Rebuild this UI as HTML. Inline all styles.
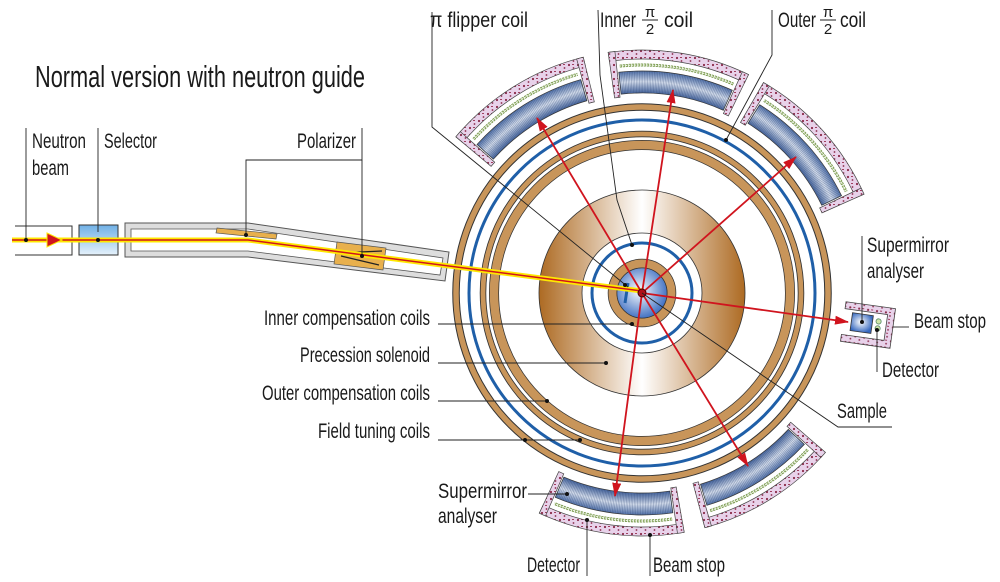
<!DOCTYPE html>
<html><head><meta charset="utf-8"><style>
html,body{margin:0;padding:0;background:#fff}
svg{display:block}
text{font-family:"Liberation Sans Narrow","Liberation Sans",sans-serif;fill:#1a1a1a}
</style></head><body>
<svg id="s" width="1000" height="582" viewBox="0 0 1000 582" xmlns="http://www.w3.org/2000/svg">
<defs>
<pattern id="pp" width="9" height="7" patternUnits="userSpaceOnUse">
<rect width="9" height="7" fill="#e8d2ea"/>
<circle cx="2" cy="2" r="1.1" fill="#8a2a4a"/><circle cx="6.5" cy="5" r="0.9" fill="#8a2a4a"/><rect x="5" y="1" width="2" height="1" fill="#a04060"/>
</pattern>
<radialGradient id="bg" cx="642" cy="293" r="243" gradientUnits="userSpaceOnUse">
<stop offset="0.82" stop-color="#3d5e9a"/><stop offset="0.87" stop-color="#dfe7f4"/><stop offset="0.915" stop-color="#4d6ea8"/>
</radialGradient>
<linearGradient id="sol" x1="539" x2="745" y1="0" y2="0" gradientUnits="userSpaceOnUse">
<stop offset="0" stop-color="#ad6a22"/><stop offset="0.5" stop-color="#ffffff"/><stop offset="1" stop-color="#ad6a22"/>
</linearGradient>
<radialGradient id="cd" cx="0.45" cy="0.45" r="0.6">
<stop offset="0" stop-color="#ffffff"/><stop offset="1" stop-color="#3568bf"/>
</radialGradient>
<linearGradient id="sel" x1="0" y1="0" x2="0" y2="1">
<stop offset="0" stop-color="#6fb0e6"/><stop offset="1" stop-color="#e6f2fb"/>
</linearGradient>
<marker id="ah" markerWidth="14" markerHeight="9" refX="13" refY="4.5" orient="auto" markerUnits="userSpaceOnUse">
<path d="M0,0 L14,4.5 L0,9 Z" fill="#d0141e"/>
</marker>
</defs>

<g id="coils"></g>

<g fill="none">
<circle cx="642" cy="293" r="186" stroke="#333" stroke-width="7.5"/>
<circle cx="642" cy="293" r="186" stroke="#c8955a" stroke-width="5.5"/>
<circle cx="642" cy="293" r="173" stroke="#1f5fa8" stroke-width="3"/>
<circle cx="642" cy="293" r="159" stroke="#333" stroke-width="6.5"/>
<circle cx="642" cy="293" r="159" stroke="#c8955a" stroke-width="4.8"/>
<circle cx="642" cy="293" r="148" stroke="#333" stroke-width="10"/>
<circle cx="642" cy="293" r="148" stroke="#c8955a" stroke-width="8.5"/>
<circle cx="642" cy="293" r="81.5" stroke="url(#sol)" stroke-width="43"/>
<circle cx="642" cy="293" r="103" stroke="#333" stroke-width="0.8"/>
<circle cx="642" cy="293" r="60" stroke="#333" stroke-width="0.8"/>
<circle cx="642" cy="293" r="50" stroke="#1f5fa8" stroke-width="3"/>
<circle cx="642" cy="293" r="29.5" stroke="#333" stroke-width="9.5"/>
<circle cx="642" cy="293" r="29.5" stroke="#c8955a" stroke-width="8"/>
</g>
<circle cx="642" cy="293" r="25" fill="url(#cd)" stroke="#333" stroke-width="0.6"/>
<line x1="628" y1="283" x2="625" y2="303" stroke="#1f5fa8" stroke-width="3"/>

<path d="M125,223 L248,223 L449,252 L445,281 L248,257 L125,257 Z" fill="#ddd" stroke="#555" stroke-width="1"/>
<path d="M131,229 L248,229 L443,258 L440,275 L248,251 L131,251 Z" fill="#fff" stroke="#555" stroke-width="0.8"/>
<path d="M15,226 L72,226 L72,255 L15,255" fill="#fff" stroke="#333" stroke-width="1"/>
<rect x="79" y="225" width="39" height="30" fill="url(#sel)" stroke="#333" stroke-width="1"/>
<polygon points="217,228 277,234 276,239 216,233" fill="#e8b04d" stroke="#555" stroke-width="0.7"/>
<polygon points="337,242 386,248 383,270 334,264" fill="#e8b04d" stroke="#555" stroke-width="0.7"/>
<path d="M338,253 L382,251 M341,256 L379,265" stroke="#222" stroke-width="1.2"/>

<polyline points="12,240 248,240 642,291" fill="none" stroke="#ffe800" stroke-width="5"/>
<polyline points="12,240 248,240 642,291" fill="none" stroke="#d0141e" stroke-width="1.5"/>
<polygon points="47,233 62,240 47,247" fill="#d0141e" stroke="#ffe800" stroke-width="1"/>

<g stroke="#d0141e" stroke-width="1.8" marker-end="url(#ah)">
<line x1="642" y1="293" x2="537" y2="118"/>
<line x1="642" y1="293" x2="673" y2="90"/>
<line x1="642" y1="293" x2="796" y2="157"/>
<line x1="642" y1="293" x2="848" y2="322"/>
<line x1="642" y1="293" x2="748" y2="466"/>
<line x1="642" y1="293" x2="615" y2="496"/>
</g>
<circle cx="642" cy="293" r="4" fill="#b01018" stroke="#400" stroke-width="1"/>

<g transform="rotate(8 868 325)">
<path d="M843,305 L893,305 L893,345 L843,345 L843,338 L886,338 L886,312 L843,312 Z" fill="url(#pp)" stroke="#444" stroke-width="0.8"/>
<rect x="851" y="315" width="21" height="18" fill="url(#cd)" stroke="#333" stroke-width="0.8"/>
<circle cx="878" cy="320" r="2.6" fill="#cfe6a8" stroke="#586" stroke-width="0.8"/>
<circle cx="878" cy="327" r="2.6" fill="#cfe6a8" stroke="#586" stroke-width="0.8"/>
</g>

<g fill="none" stroke="#222" stroke-width="0.9">
<line x1="26" y1="128" x2="26" y2="240"/>
<line x1="98" y1="128" x2="98" y2="232"/>
<polyline points="362,128 362,160 246,160 246,235"/>
<line x1="362" y1="160" x2="362" y2="256"/>
<polyline points="432,12 432,127 628,287"/>
<polyline points="598,10 600,75 617,200 632,245"/>
<polyline points="772,10 772,55 726,140"/>
<line x1="438" y1="324" x2="632" y2="324"/>
<line x1="438" y1="363" x2="606" y2="363"/>
<line x1="438" y1="401" x2="547" y2="401"/>
<line x1="438" y1="440" x2="580" y2="440"/>
<polyline points="642,293 838,427 892,427"/>
<line x1="862" y1="236" x2="862" y2="322"/>
<line x1="893" y1="327" x2="909" y2="327"/>
<line x1="877" y1="330" x2="877" y2="372"/>
<line x1="528" y1="494" x2="567" y2="494"/>
<line x1="587" y1="520" x2="587" y2="576"/>
<line x1="650" y1="535" x2="650" y2="576"/>
</g>
<g fill="#111">
<circle cx="26" cy="240" r="2"/><circle cx="98" cy="240" r="2"/><circle cx="246" cy="235" r="2"/><circle cx="362" cy="256" r="2"/>
<circle cx="625" cy="285" r="2"/><circle cx="632" cy="245" r="2"/><circle cx="726" cy="140" r="2"/>
<circle cx="632" cy="324" r="2"/><circle cx="606" cy="363" r="2"/><circle cx="547" cy="401" r="2"/>
<circle cx="525" cy="440" r="2"/><circle cx="580" cy="440" r="2"/><circle cx="862" cy="322" r="2"/><circle cx="877" cy="330" r="2"/>
<circle cx="567" cy="494" r="2"/><circle cx="587" cy="520" r="2"/><circle cx="650" cy="535" r="2"/>
</g>

<text x="35" y="87" font-size="31" textLength="330" lengthAdjust="spacingAndGlyphs">Normal version with neutron guide</text>
<g font-size="21">
<text x="32" y="148" textLength="54" lengthAdjust="spacingAndGlyphs">Neutron</text>
<text x="32" y="175" textLength="37" lengthAdjust="spacingAndGlyphs">beam</text>
<text x="104" y="148" textLength="53" lengthAdjust="spacingAndGlyphs">Selector</text>
<text x="297" y="148" textLength="59" lengthAdjust="spacingAndGlyphs">Polarizer</text>
<text x="430" y="27" textLength="98" lengthAdjust="spacingAndGlyphs">π flipper coil</text>
<text x="600" y="27" textLength="36" lengthAdjust="spacingAndGlyphs">Inner</text>
<text x="664" y="27" textLength="29" lengthAdjust="spacingAndGlyphs">coil</text>
<text x="778" y="27" textLength="38" lengthAdjust="spacingAndGlyphs">Outer</text>
<text x="840" y="27" textLength="26" lengthAdjust="spacingAndGlyphs">coil</text>
<text x="264" y="325" textLength="166" lengthAdjust="spacingAndGlyphs">Inner compensation coils</text>
<text x="300" y="362" textLength="130" lengthAdjust="spacingAndGlyphs">Precession solenoid</text>
<text x="262" y="400" textLength="168" lengthAdjust="spacingAndGlyphs">Outer compensation coils</text>
<text x="318" y="438" textLength="112" lengthAdjust="spacingAndGlyphs">Field tuning coils</text>
<text x="837" y="418" textLength="50" lengthAdjust="spacingAndGlyphs">Sample</text>
<text x="867" y="252" textLength="82" lengthAdjust="spacingAndGlyphs">Supermirror</text>
<text x="867" y="278" textLength="57" lengthAdjust="spacingAndGlyphs">analyser</text>
<text x="914" y="328" textLength="72" lengthAdjust="spacingAndGlyphs">Beam stop</text>
<text x="882" y="377" textLength="57" lengthAdjust="spacingAndGlyphs">Detector</text>
<text x="438" y="498" textLength="89" lengthAdjust="spacingAndGlyphs">Supermirror</text>
<text x="438" y="523" textLength="59" lengthAdjust="spacingAndGlyphs">analyser</text>
<text x="527" y="572" textLength="53" lengthAdjust="spacingAndGlyphs">Detector</text>
<text x="653" y="572" textLength="72" lengthAdjust="spacingAndGlyphs">Beam stop</text>
</g>
<g font-size="15" text-anchor="middle">
<text x="650" y="17">π</text><text x="650" y="34">2</text>
<text x="828" y="17">π</text><text x="828" y="34">2</text>
</g>
<line x1="642" y1="20" x2="658" y2="20" stroke="#222" stroke-width="1"/>
<line x1="820" y1="20" x2="836" y2="20" stroke="#222" stroke-width="1"/>
</svg>
<script>
(function(){
var cx=642,cy=293,NS="http://www.w3.org/2000/svg",g=document.getElementById("coils");
function P(r,a){a=a*Math.PI/180;return [cx+r*Math.cos(a),cy+r*Math.sin(a)];}
function sec(r1,r2,a1,a2){var p1=P(r2,a1),p2=P(r2,a2),p3=P(r1,a2),p4=P(r1,a1),l=(a2-a1)>180?1:0;
return "M"+p1+" A"+r2+","+r2+" 0 "+l+" 1 "+p2+" L"+p3+" A"+r1+","+r1+" 0 "+l+" 0 "+p4+" Z";}
function arc(r,a1,a2){var p1=P(r,a1),p2=P(r,a2);return "M"+p1+" A"+r+","+r+" 0 0 1 "+p2;}
function el(t,at){var e=document.createElementNS(NS,t);for(var k in at)e.setAttribute(k,at[k]);g.appendChild(e);return e;}
[[-140,-104],[-98,-64],[-60,-24],[41,75],[80,115]].forEach(function(c){
var a1=c[0],a2=c[1],w=1.6;
el("path",{d:sec(200,222,a1+w+0.4,a2-w-0.4),fill:"url(#bg)",stroke:"#333","stroke-width":0.7});
el("path",{d:arc(211,a1+w+0.4,a2-w-0.4),fill:"none",stroke:"#27406e","stroke-opacity":0.35,"stroke-width":21,"stroke-dasharray":"0.8 0.8"});
el("path",{d:arc(228,a1+w+0.8,a2-w-0.8),fill:"none",stroke:"#7a9a50","stroke-width":3,"stroke-dasharray":"2.2 0.8"});
el("path",{d:arc(228,a1+w+0.8,a2-w-0.8),fill:"none",stroke:"#e8f2d8","stroke-width":1.2,"stroke-dasharray":"1.5 1.5"});
el("path",{d:sec(234,243,a1,a2),fill:"url(#pp)",stroke:"#444","stroke-width":0.7});
el("path",{d:sec(197,243,a1,a1+w),fill:"url(#pp)",stroke:"#444","stroke-width":0.7});
el("path",{d:sec(197,243,a2-w,a2),fill:"url(#pp)",stroke:"#444","stroke-width":0.7});
});
})();
</script>
</body></html>
